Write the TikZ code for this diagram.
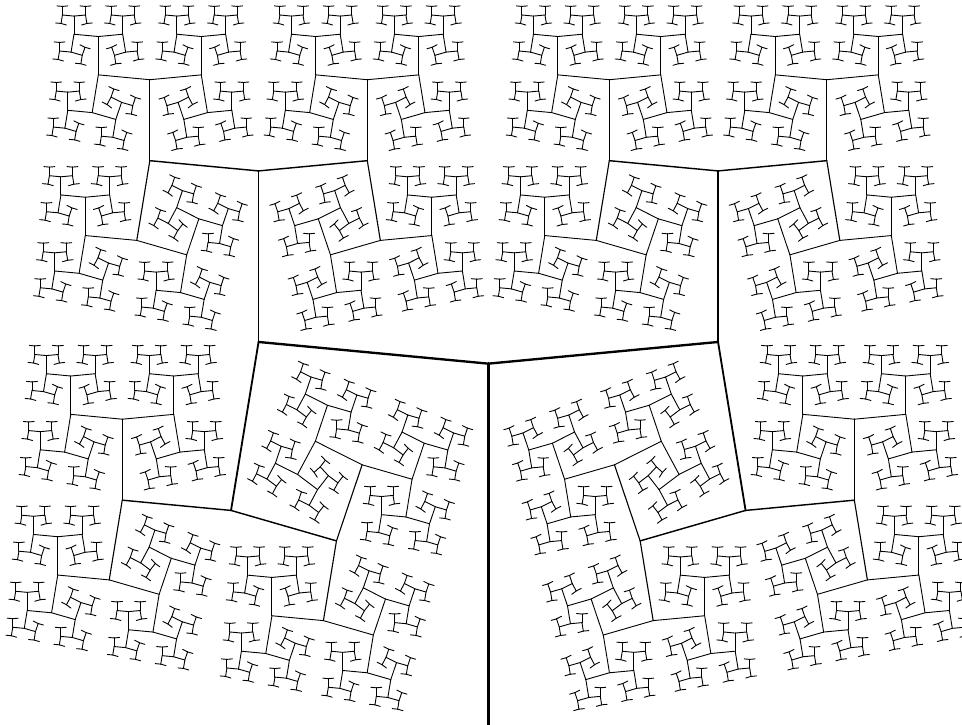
\documentclass[tikz,border=0pt]{standalone}
\newcommand\fracbranch[5]{%
  \ifnum#5<12\relax
  \begingroup
    \pgfmathsetmacro\bx{#1}%
    \pgfmathsetmacro\by{#2}%
    \pgfmathsetmacro\ba{#3}%
    \pgfmathsetmacro\bl{#4}%
    \pgfmathtruncatemacro\blev{#5}%
    \pgfmathsetmacro\ex{\bx+\bl*cos(\ba)}%
    \pgfmathsetmacro\ey{\by+\bl*sin(\ba)}%
    \pgfmathsetmacro\bw{max(0.9,3*0.78^\blev)}%
    \draw[branchline, line width=\bw pt] (\bx pt,\by pt) -- (\ex pt,\ey pt);
    \pgfmathsetmacro\nl{\bl*0.688}%
    \pgfmathtruncatemacro\nlev{\blev+1}%
    \pgfmathsetmacro\aone{\ba+85}%
    \pgfmathsetmacro\atwo{\ba-85}%
    \fracbranch{\ex}{\ey}{\aone}{\nl}{\nlev}%
    \fracbranch{\ex}{\ey}{\atwo}{\nl}{\nlev}%
  \endgroup
  \fi}
\tikzset{branchline/.style={draw=black, line cap=round}}
\begin{document}
\begin{tikzpicture}
\useasboundingbox (0pt,0pt) rectangle (962pt,725pt);
\begin{scope}[shift={(488.3pt,0pt)}, yscale=1.078]
\fracbranch{0}{0}{90}{335.2}{0}
\end{scope}
\end{tikzpicture}
\end{document}
